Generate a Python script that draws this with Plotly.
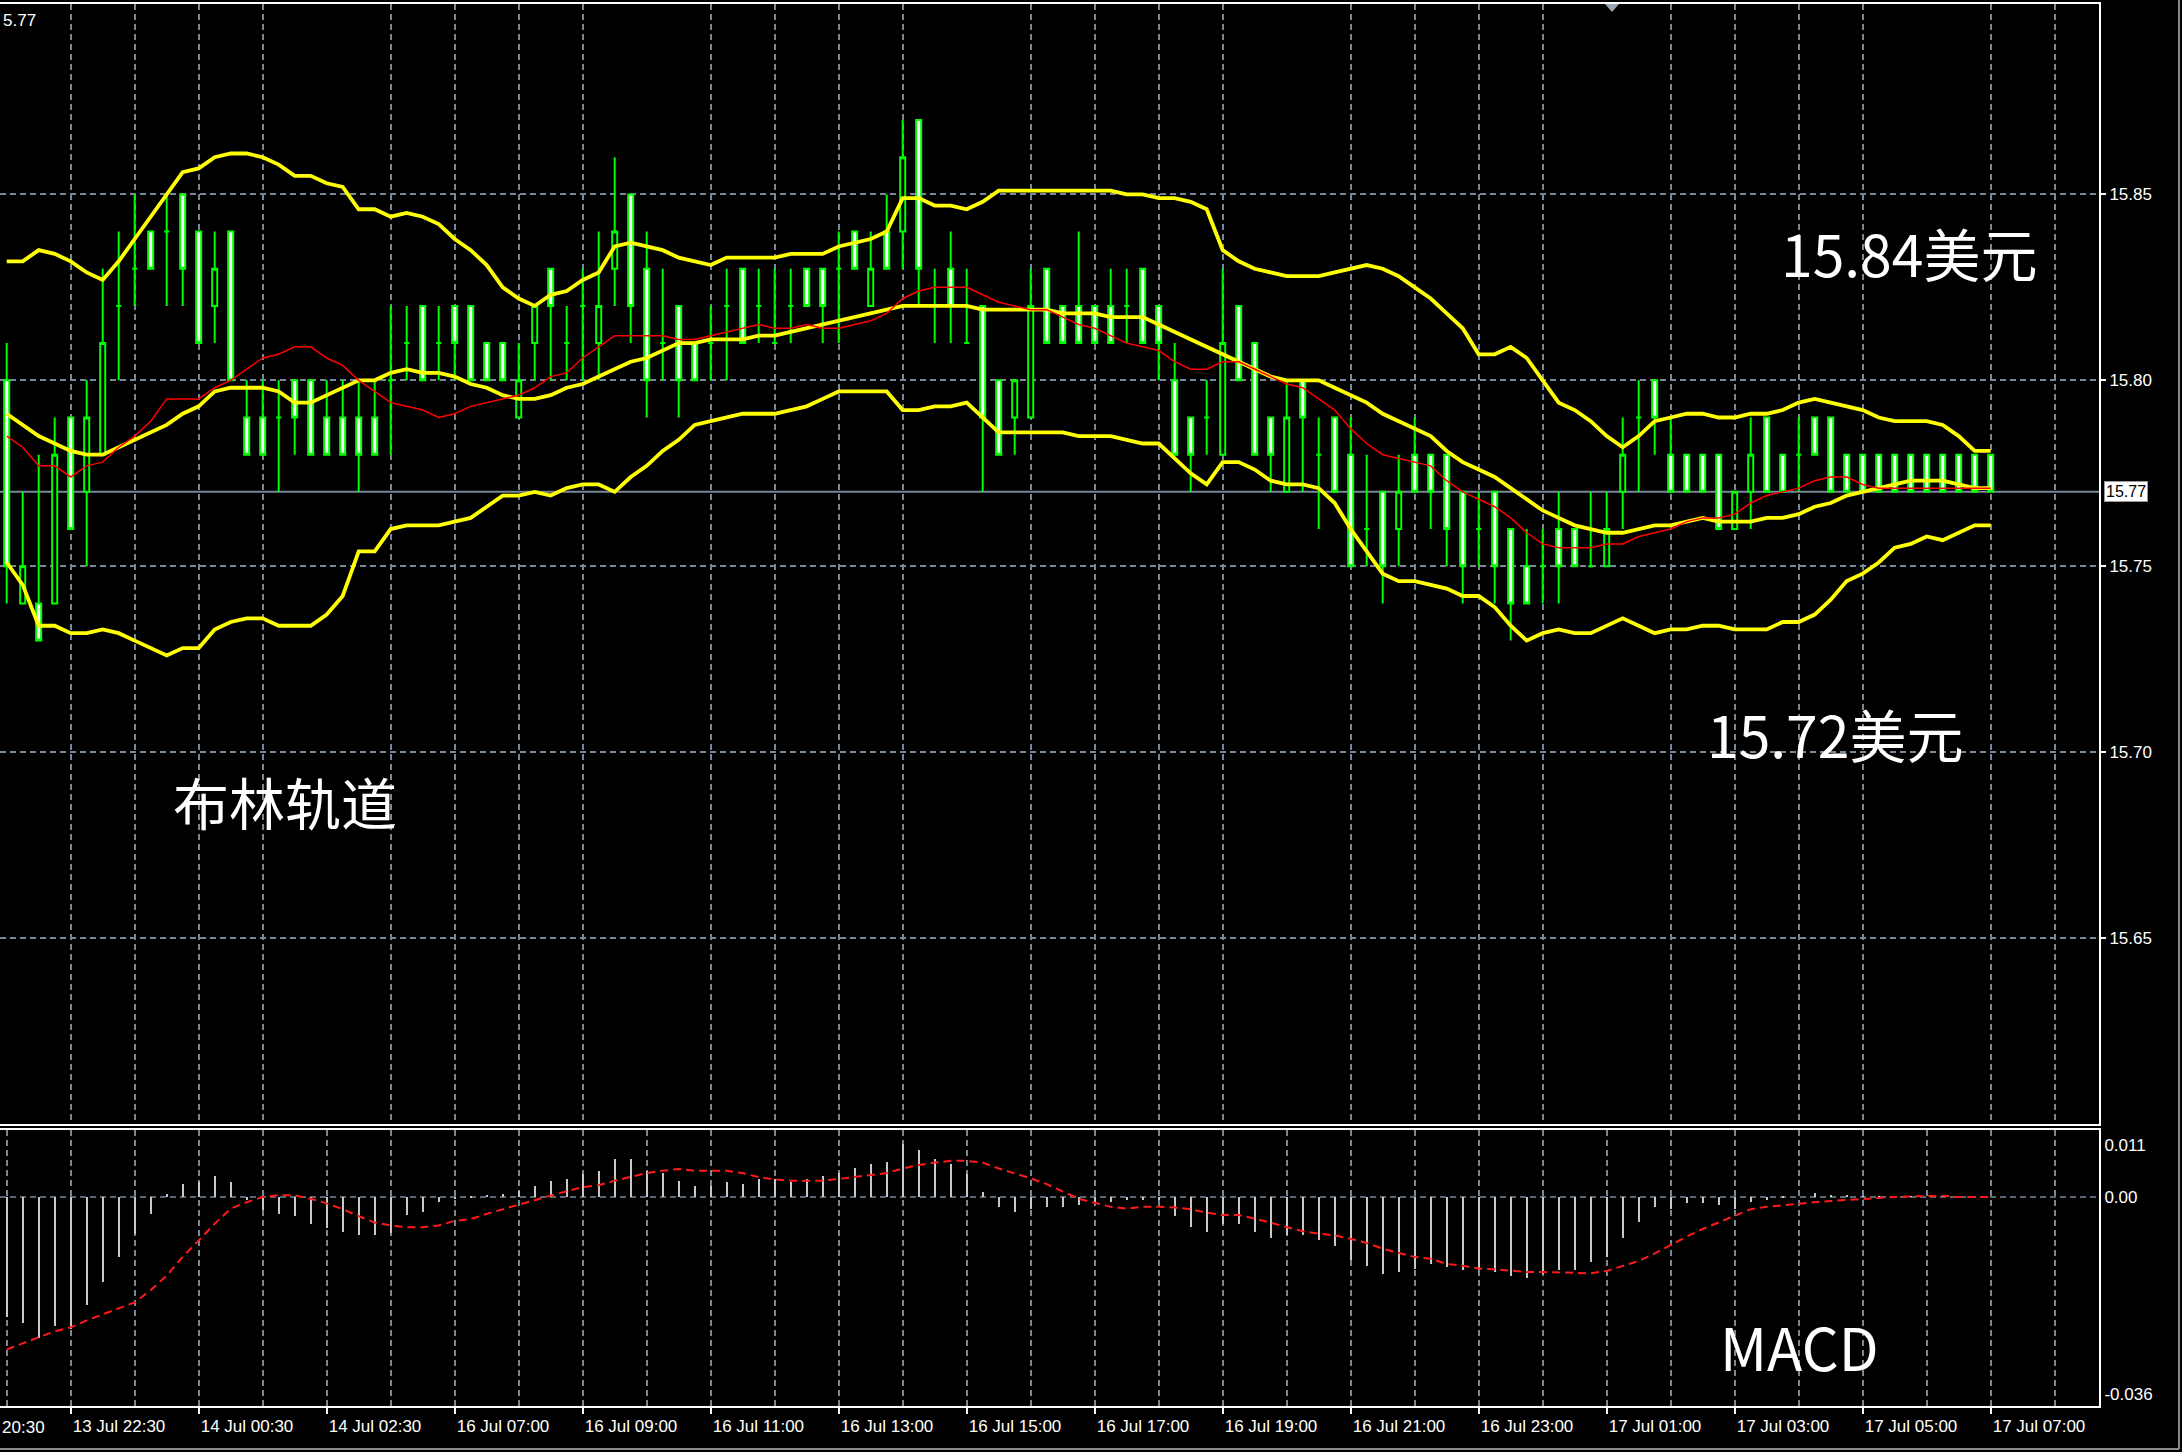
import plotly.graph_objects as go

# ---------------- data ----------------
idx = list(range(125))

open_ = [15.80,15.74,15.74,15.74,15.79,15.77,15.78,15.82,15.83,15.84,
         15.84,15.85,15.84,15.82,15.84,15.79,15.79,15.79,15.80,15.80,
         15.79,15.79,15.79,15.79,15.80,15.81,15.82,15.81,15.82,15.82,
         15.81,15.81,15.79,15.81,15.83,15.81,15.82,15.81,15.83,15.85,
         15.83,15.81,15.82,15.81,15.81,15.82,15.83,15.82,15.81,15.82,
         15.83,15.83,15.83,15.84,15.82,15.84,15.84,15.87,15.82,15.83,
         15.81,15.82,15.80,15.79,15.79,15.83,15.82,15.82,15.82,15.82,
         15.82,15.83,15.82,15.80,15.79,15.79,15.78,15.82,15.81,15.79,
         15.77,15.80,15.78,15.79,15.78,15.76,15.77,15.76,15.78,15.78,
         15.78,15.77,15.76,15.77,15.76,15.75,15.75,15.76,15.76,15.75,
         15.75,15.77,15.79,15.80,15.78,15.78,15.78,15.78,15.76,15.77,
         15.79,15.78,15.78,15.79,15.79,15.78,15.78,15.78,15.78,15.78,
         15.78,15.78,15.78,15.78,15.78]

high = [15.81,15.77,15.78,15.79,15.79,15.80,15.83,15.84,15.85,15.84,
        15.85,15.85,15.84,15.84,15.84,15.80,15.80,15.80,15.80,15.80,
        15.80,15.80,15.80,15.80,15.82,15.82,15.82,15.82,15.82,15.82,
        15.81,15.81,15.81,15.82,15.83,15.82,15.83,15.84,15.86,15.85,
        15.84,15.83,15.82,15.81,15.82,15.83,15.83,15.83,15.83,15.83,
        15.83,15.83,15.84,15.84,15.84,15.85,15.87,15.87,15.83,15.84,
        15.83,15.82,15.80,15.80,15.83,15.83,15.82,15.84,15.82,15.83,
        15.83,15.83,15.82,15.81,15.79,15.80,15.83,15.82,15.81,15.79,
        15.80,15.80,15.79,15.79,15.79,15.78,15.77,15.78,15.79,15.78,
        15.78,15.77,15.77,15.77,15.76,15.76,15.76,15.77,15.76,15.77,
        15.77,15.79,15.80,15.80,15.79,15.78,15.78,15.78,15.77,15.79,
        15.79,15.78,15.79,15.79,15.79,15.78,15.78,15.78,15.78,15.78,
        15.78,15.78,15.78,15.78,15.78]

low = [15.74,15.74,15.73,15.74,15.76,15.75,15.78,15.80,15.82,15.83,
       15.82,15.82,15.81,15.81,15.80,15.78,15.78,15.77,15.78,15.78,
       15.78,15.78,15.77,15.78,15.78,15.80,15.80,15.80,15.80,15.80,
       15.80,15.80,15.79,15.80,15.80,15.80,15.80,15.80,15.82,15.81,
       15.79,15.80,15.79,15.80,15.80,15.80,15.81,15.81,15.81,15.81,
       15.82,15.81,15.81,15.83,15.82,15.83,15.83,15.82,15.81,15.81,
       15.81,15.77,15.78,15.78,15.79,15.81,15.81,15.81,15.81,15.81,
       15.81,15.81,15.80,15.78,15.77,15.78,15.78,15.80,15.78,15.77,
       15.77,15.77,15.76,15.77,15.75,15.75,15.74,15.75,15.77,15.76,
       15.75,15.74,15.75,15.74,15.73,15.74,15.74,15.74,15.75,15.75,
       15.75,15.76,15.77,15.78,15.77,15.77,15.77,15.76,15.76,15.76,
       15.77,15.77,15.77,15.78,15.77,15.77,15.77,15.77,15.77,15.77,
       15.77,15.77,15.77,15.77,15.77]

close = [15.75,15.75,15.73,15.78,15.76,15.79,15.81,15.82,15.83,15.83,
         15.84,15.83,15.81,15.83,15.80,15.78,15.78,15.79,15.79,15.78,
         15.78,15.78,15.78,15.78,15.80,15.81,15.80,15.81,15.81,15.80,
         15.80,15.80,15.80,15.82,15.82,15.81,15.82,15.82,15.84,15.82,
         15.80,15.81,15.80,15.80,15.81,15.82,15.81,15.82,15.81,15.82,
         15.82,15.82,15.83,15.83,15.83,15.83,15.86,15.83,15.82,15.82,
         15.81,15.79,15.78,15.80,15.82,15.81,15.81,15.81,15.81,15.81,
         15.82,15.81,15.81,15.78,15.78,15.79,15.81,15.80,15.78,15.78,
         15.79,15.79,15.78,15.77,15.75,15.76,15.75,15.77,15.77,15.77,
         15.76,15.75,15.76,15.75,15.74,15.74,15.75,15.75,15.75,15.75,
         15.76,15.78,15.79,15.79,15.77,15.77,15.77,15.76,15.77,15.78,
         15.77,15.77,15.78,15.78,15.77,15.77,15.77,15.77,15.77,15.77,
         15.77,15.77,15.77,15.77,15.77]

bb_upper = [15.832,15.832,15.835,15.834,15.832,15.829,15.827,15.832,15.838,15.844,
            15.850,15.856,15.857,15.860,15.861,15.861,15.860,15.858,15.855,15.855,
            15.853,15.852,15.846,15.846,15.844,15.845,15.844,15.842,15.838,15.835,
            15.831,15.825,15.822,15.820,15.823,15.824,15.827,15.829,15.836,15.837,
            15.836,15.835,15.833,15.832,15.831,15.833,15.833,15.833,15.833,15.834,
            15.834,15.834,15.836,15.837,15.838,15.840,15.849,15.849,15.847,15.847,
            15.846,15.848,15.851,15.851,15.851,15.851,15.851,15.851,15.851,15.851,
            15.850,15.850,15.849,15.849,15.848,15.846,15.835,15.832,15.830,15.829,
            15.828,15.828,15.828,15.829,15.830,15.831,15.830,15.828,15.825,15.822,
            15.818,15.814,15.807,15.807,15.809,15.806,15.800,15.794,15.792,15.789,
            15.785,15.782,15.785,15.789,15.790,15.791,15.791,15.790,15.790,15.791,
            15.791,15.792,15.794,15.795,15.794,15.793,15.792,15.790,15.789,15.789,
            15.789,15.788,15.785,15.781,15.781]

bb_mid = [15.791,15.788,15.785,15.783,15.781,15.780,15.780,15.782,15.784,15.786,
          15.788,15.791,15.793,15.797,15.798,15.798,15.798,15.797,15.794,15.794,
          15.796,15.798,15.800,15.800,15.802,15.803,15.802,15.802,15.801,15.799,
          15.798,15.796,15.795,15.795,15.796,15.798,15.799,15.801,15.803,15.805,
          15.806,15.808,15.810,15.810,15.811,15.811,15.811,15.812,15.812,15.813,
          15.814,15.815,15.816,15.817,15.818,15.819,15.820,15.820,15.820,15.820,
          15.820,15.819,15.819,15.819,15.819,15.819,15.818,15.818,15.818,15.817,
          15.817,15.817,15.815,15.813,15.811,15.809,15.807,15.805,15.803,15.801,
          15.800,15.800,15.800,15.798,15.796,15.794,15.791,15.789,15.787,15.785,
          15.781,15.778,15.776,15.774,15.771,15.768,15.765,15.763,15.761,15.760,
          15.759,15.759,15.760,15.761,15.761,15.762,15.763,15.762,15.762,15.762,
          15.763,15.763,15.764,15.766,15.767,15.769,15.770,15.771,15.772,15.773,
          15.773,15.773,15.772,15.771,15.771]

bb_lower = [15.751,15.745,15.734,15.734,15.732,15.732,15.733,15.732,15.730,15.728,
            15.726,15.728,15.728,15.733,15.735,15.736,15.736,15.734,15.734,15.734,
            15.737,15.742,15.754,15.754,15.760,15.761,15.761,15.761,15.762,15.763,
            15.766,15.769,15.769,15.770,15.769,15.771,15.772,15.772,15.770,15.774,
            15.777,15.781,15.784,15.788,15.789,15.790,15.791,15.791,15.791,15.792,
            15.793,15.795,15.797,15.797,15.797,15.797,15.792,15.792,15.793,15.793,
            15.794,15.790,15.786,15.786,15.786,15.786,15.786,15.785,15.785,15.785,
            15.784,15.783,15.783,15.779,15.775,15.772,15.778,15.778,15.776,15.773,
            15.772,15.772,15.771,15.767,15.760,15.754,15.748,15.746,15.746,15.745,
            15.744,15.742,15.742,15.739,15.734,15.730,15.732,15.733,15.732,15.732,
            15.734,15.736,15.734,15.732,15.733,15.733,15.734,15.734,15.733,15.733,
            15.733,15.735,15.735,15.737,15.741,15.746,15.748,15.751,15.755,15.756,
            15.758,15.757,15.759,15.761,15.761]

ma_red = [15.785,15.782,15.777,15.777,15.774,15.777,15.778,15.782,15.785,15.789,
          15.795,15.795,15.795,15.798,15.800,15.803,15.806,15.807,15.809,15.809,
          15.806,15.804,15.800,15.797,15.794,15.793,15.792,15.790,15.791,15.793,
          15.794,15.795,15.796,15.798,15.801,15.802,15.806,15.809,15.812,15.812,
          15.812,15.812,15.811,15.811,15.812,15.813,15.814,15.815,15.814,15.814,
          15.815,15.814,15.814,15.815,15.816,15.818,15.822,15.824,15.825,15.825,
          15.825,15.823,15.821,15.820,15.819,15.819,15.817,15.815,15.814,15.812,
          15.810,15.809,15.808,15.805,15.803,15.803,15.805,15.805,15.803,15.801,
          15.799,15.798,15.795,15.792,15.787,15.783,15.780,15.779,15.778,15.777,
          15.773,15.770,15.768,15.766,15.763,15.759,15.756,15.755,15.755,15.755,
          15.756,15.756,15.758,15.759,15.760,15.762,15.763,15.763,15.764,15.767,
          15.769,15.770,15.771,15.773,15.774,15.774,15.772,15.771,15.771,15.771,
          15.771,15.771,15.771,15.771,15.771]

macd_hist = [-0.0206,-0.0217,-0.0243,-0.0221,-0.0226,-0.0186,-0.0146,-0.0103,-0.0063,-0.0029,
             0.0005,0.0022,0.0026,0.0036,0.0026,-0.0005,-0.0022,-0.0029,-0.0033,-0.0046,
             -0.0054,-0.0060,-0.0066,-0.0066,-0.0062,-0.0031,-0.0026,-0.0009,-0.0004,-0.0002,
             0.0002,0.0005,0.0010,0.0018,0.0028,0.0031,0.0040,0.0045,0.0065,0.0065,
             0.0045,0.0042,0.0028,0.0018,0.0018,0.0026,0.0022,0.0030,0.0030,0.0026,
             0.0031,0.0036,0.0041,0.0049,0.0056,0.0060,0.0091,0.0080,0.0066,0.0056,
             0.0040,0.0009,-0.0018,-0.0025,-0.0021,-0.0018,-0.0018,-0.0014,-0.0010,-0.0009,
             -0.0006,-0.0006,-0.0006,-0.0033,-0.0052,-0.0060,-0.0046,-0.0047,-0.0060,-0.0070,
             -0.0066,-0.0066,-0.0074,-0.0085,-0.0108,-0.0119,-0.0132,-0.0129,-0.0123,-0.0115,
             -0.0121,-0.0125,-0.0125,-0.0129,-0.0135,-0.0139,-0.0132,-0.0126,-0.0126,-0.0112,
             -0.0103,-0.0070,-0.0043,-0.0018,-0.0021,-0.0011,-0.0011,-0.0014,-0.0021,-0.0009,
             -0.0005,-0.0002,0.0000,0.0007,0.0004,0.0002,0.0001,0.0001,0.0001,0.0001,
             0.0000,0.0001,0.0000,0.0000,0.0000]

macd_signal = [-0.0262,-0.0251,-0.0241,-0.0231,-0.0224,-0.0212,-0.0202,-0.0192,-0.0181,-0.0160,
               -0.0135,-0.0103,-0.0074,-0.0046,-0.0020,-0.0009,0.0000,0.0003,0.0003,-0.0003,
               -0.0011,-0.0021,-0.0033,-0.0044,-0.0049,-0.0052,-0.0052,-0.0049,-0.0041,-0.0038,
               -0.0029,-0.0021,-0.0014,-0.0005,0.0003,0.0010,0.0017,0.0020,0.0028,0.0034,
               0.0041,0.0045,0.0048,0.0045,0.0045,0.0045,0.0041,0.0034,0.0030,0.0028,
               0.0028,0.0028,0.0031,0.0034,0.0037,0.0041,0.0049,0.0055,0.0059,0.0062,
               0.0062,0.0059,0.0049,0.0041,0.0032,0.0022,0.0009,-0.0003,-0.0010,-0.0017,
               -0.0020,-0.0017,-0.0017,-0.0018,-0.0021,-0.0027,-0.0031,-0.0031,-0.0037,-0.0044,
               -0.0052,-0.0059,-0.0063,-0.0066,-0.0072,-0.0079,-0.0089,-0.0096,-0.0103,-0.0106,
               -0.0115,-0.0118,-0.0123,-0.0124,-0.0127,-0.0129,-0.0129,-0.0130,-0.0131,-0.0131,
               -0.0127,-0.0119,-0.0110,-0.0097,-0.0082,-0.0068,-0.0055,-0.0044,-0.0033,-0.0021,
               -0.0017,-0.0014,-0.0011,-0.0009,-0.0007,-0.0005,-0.0003,-0.0002,0.0000,0.0001,
               0.0002,0.0002,0.0000,0.0000,0.0000]

time_tick_idx = [4, 12, 20, 28, 36, 44, 52, 60, 68, 76, 84, 92, 100, 108, 116, 124]
time_tick_text = ["13 Jul 22:30", "14 Jul 00:30", "14 Jul 02:30", "16 Jul 07:00",
                  "16 Jul 09:00", "16 Jul 11:00", "16 Jul 13:00", "16 Jul 15:00",
                  "16 Jul 17:00", "16 Jul 19:00", "16 Jul 21:00", "16 Jul 23:00",
                  "17 Jul 01:00", "17 Jul 03:00", "17 Jul 05:00", "17 Jul 07:00"]
price_ticks = [15.65, 15.70, 15.75, 15.80, 15.85]
price_tick_text = ["15.65", "15.70", "15.75", "15.80", "15.85"]
macd_tick_pos = [0.0090, 0.0, -0.0338]
macd_tick_text = ["0.011", "0.00", "-0.036"]
last_price = 15.77

# ---------------- style ----------------
W, H = 2182, 1452
PLOT_L, PLOT_R, PLOT_T, PLOT_B = 0, 2099, 4, 1406
MAIN_BOTTOM, MACD_TOP = 1124, 1130
GRID = "#778899"
GREEN = "#00ff00"
YELLOW = "#ffff00"
FONT_AX = "Liberation Sans, Arial, sans-serif"
FONT_BIG = "Noto Sans CJK SC, sans-serif"
ph = PLOT_B - PLOT_T

def py(pix):
    return (PLOT_B - pix) / ph

def px(pix):
    return (pix - PLOT_L) / (PLOT_R - PLOT_L)

fig = go.Figure()

fig.add_trace(go.Candlestick(
    x=idx, open=open_, high=high, low=low, close=close,
    increasing=dict(line=dict(color=GREEN, width=2), fillcolor="black"),
    decreasing=dict(line=dict(color=GREEN, width=2), fillcolor="white"),
    whiskerwidth=0, xaxis="x", yaxis="y", showlegend=False, hoverinfo="skip"))

for series in (bb_upper, bb_mid, bb_lower):
    fig.add_trace(go.Scatter(x=idx, y=series, mode="lines",
                             line=dict(color=YELLOW, width=3.8),
                             xaxis="x", yaxis="y", showlegend=False, hoverinfo="skip"))

fig.add_trace(go.Scatter(x=idx, y=ma_red, mode="lines",
                         line=dict(color="#ff0000", width=1.5),
                         xaxis="x", yaxis="y", showlegend=False, hoverinfo="skip"))

fig.add_trace(go.Bar(x=idx, y=macd_hist, width=0.13,
                     marker=dict(color="#c8c8c8", line=dict(width=0)),
                     xaxis="x2", yaxis="y2", showlegend=False, hoverinfo="skip"))
fig.add_trace(go.Scatter(x=idx, y=macd_signal, mode="lines",
                         line=dict(color="#ff1a1a", width=2, dash="8px,5px"),
                         xaxis="x2", yaxis="y2", showlegend=False, hoverinfo="skip"))

xr = [(PLOT_L - 6.7) / 16.0, (PLOT_R - 6.7) / 16.0]
minor_grid = dict(tickmode="linear", tick0=0, dtick=4, showgrid=True,
                  gridcolor=GRID, griddash="6px,4px", gridwidth=1.5, ticks="")

fig.update_layout(
    width=W, height=H, autosize=False,
    paper_bgcolor="black", plot_bgcolor="black",
    margin=dict(l=PLOT_L, r=W - PLOT_R, t=PLOT_T, b=H - PLOT_B, pad=0),
    boxgap=0.55, bargap=0,
    showlegend=False,
    xaxis=dict(domain=[0, 1], range=xr, anchor="y", showticklabels=False,
               showgrid=False, zeroline=False, minor=minor_grid,
               showline=True, mirror=True, linecolor="white", linewidth=2,
               rangeslider=dict(visible=False), fixedrange=True),
    xaxis2=dict(domain=[0, 1], range=xr, anchor="y2", matches="x",
                tickmode="array", tickvals=time_tick_idx, ticktext=time_tick_text,
                ticklabelposition="outside right", ticks="outside", ticklen=6,
                ticklabelstandoff=4,
                tickcolor="white", tickwidth=2,
                tickfont=dict(color="white", size=17, family=FONT_AX),
                showgrid=False, zeroline=False, minor=minor_grid,
                showline=True, mirror=True, linecolor="white", linewidth=2,
                rangeslider=dict(visible=False)),
    yaxis=dict(domain=[py(MAIN_BOTTOM), 1], range=[15.600, 15.9012], side="right",
               tickmode="array", tickvals=price_ticks, ticktext=price_tick_text,
               ticks="outside", ticklen=5, tickcolor="white", tickwidth=2,
               tickfont=dict(color="white", size=17, family=FONT_AX),
               showgrid=True, gridcolor=GRID, griddash="6px,4px", gridwidth=1.5,
               zeroline=False, showline=True, linecolor="white", linewidth=2),
    yaxis2=dict(domain=[0, py(MACD_TOP)], range=[-0.0359, 0.0115], side="right",
                anchor="x2",
                tickmode="array", tickvals=macd_tick_pos, ticktext=macd_tick_text,
                ticks="", tickfont=dict(color="white", size=17, family=FONT_AX),
                showgrid=False, zeroline=False, showline=True, linecolor="white",
                linewidth=2),
)

shapes = [
    dict(type="line", xref="x2 domain", yref="y2", x0=0, x1=1, y0=0, y1=0,
         line=dict(color=GRID, width=1.5, dash="6px,4px"), layer="below"),
    dict(type="line", xref="x domain", yref="y", x0=0, x1=1, y0=last_price, y1=last_price,
         line=dict(color=GRID, width=2), layer="below"),
    dict(type="path", xref="paper", yref="paper",
         path=f"M {px(1605)},{py(4)} L {px(1619)},{py(4)} L {px(1612)},{py(12)} Z",
         fillcolor="#9aa5b1", line=dict(width=0)),
    dict(type="line", xref="paper", yref="paper", x0=px(2179), x1=px(2179),
         y0=py(0), y1=py(1449), line=dict(color="#8a8a8a", width=2)),
    dict(type="line", xref="paper", yref="paper", x0=px(0), x1=px(2179),
         y0=py(1449), y1=py(1449), line=dict(color="#8a8a8a", width=2)),
]
fig.update_layout(shapes=shapes)

annotations = [
    dict(text="15.77", xref="paper", yref="y", x=px(2104), y=last_price,
         xanchor="left", yanchor="middle", showarrow=False,
         font=dict(color="black", size=16, family=FONT_AX),
         bgcolor="white", bordercolor="#999999", borderwidth=1, borderpad=1),
    dict(text="5.77", xref="paper", yref="paper", x=px(1), y=py(20),
         xanchor="left", yanchor="middle", showarrow=False,
         font=dict(color="white", size=17, family=FONT_AX)),
    dict(text="13 Jul 20:30", xref="paper", yref="paper", x=px(-50), y=py(1427),
         xanchor="left", yanchor="middle", showarrow=False,
         font=dict(color="white", size=17, family=FONT_AX)),
    dict(text="15.84美元", xref="paper", yref="paper", x=px(1909), y=py(252),
         xanchor="center", yanchor="middle", showarrow=False,
         font=dict(color="white", size=57, family=FONT_BIG)),
    dict(text="15.72美元", xref="paper", yref="paper", x=px(1835), y=py(733),
         xanchor="center", yanchor="middle", showarrow=False,
         font=dict(color="white", size=57, family=FONT_BIG)),
    dict(text="布林轨道", xref="paper", yref="paper", x=px(285), y=py(800),
         xanchor="center", yanchor="middle", showarrow=False,
         font=dict(color="white", size=56, family=FONT_BIG)),
    dict(text="MACD", xref="paper", yref="paper", x=px(1799), y=py(1346),
         xanchor="center", yanchor="middle", showarrow=False,
         font=dict(color="white", size=58, family=FONT_BIG)),
]
fig.update_layout(annotations=annotations)

fig.write_html("out.html",
               config={"displayModeBar": False},
               post_script="document.body.style.margin='0';"
                           "document.body.style.background='black';"
                           "document.body.style.overflow='hidden';")
